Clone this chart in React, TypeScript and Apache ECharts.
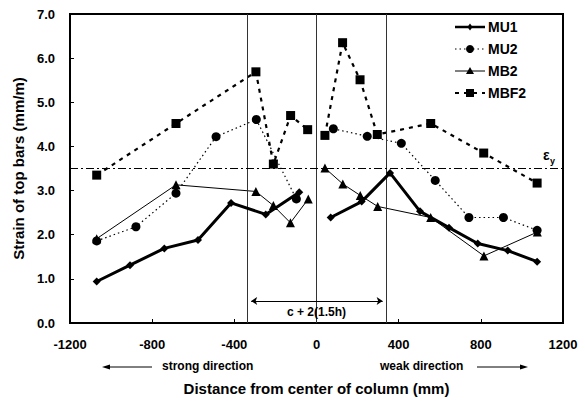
import React, { useEffect, useRef } from "react";
import * as echarts from "echarts";

const FONT = "'Liberation Sans', Arial, Helvetica, sans-serif";

const seriesNames = ["MU1", "MU2", "MB2", "MBF2"];

// '-' marks the gap at the column centre
const mu1X = [-1070, -908, -741, -577, -416, -247, -84, 0, 69, 220, 358, 504, 645, 785, 931, 1074];
const mu1Y: (number | string)[] = [0.94, 1.31, 1.69, 1.88, 2.72, 2.46, 2.96, "-", 2.39, 2.75, 3.4, 2.53, 2.16, 1.8, 1.64, 1.39];

const mu2X = [-1070, -879, -684, -489, -293, -98, 0, 82, 247, 413, 578, 742, 910, 1074];
const mu2Y: (number | string)[] = [1.86, 2.18, 2.94, 4.22, 4.61, 2.81, "-", 4.4, 4.23, 4.07, 3.23, 2.39, 2.39, 2.1];

const mb2X = [-1070, -684, -295, -210, -127, -40, 0, 41, 128, 213, 298, 556, 815, 1075];
const mb2Y: (number | string)[] = [1.91, 3.13, 2.98, 2.66, 2.27, 2.81, "-", 3.51, 3.15, 2.89, 2.64, 2.39, 1.52, 2.06];

const mbf2X = [-1070, -684, -295, -210, -126, -43, 0, 41, 127, 212, 296, 556, 814, 1074];
const mbf2Y: (number | string)[] = [3.35, 4.52, 5.69, 3.6, 4.7, 4.38, "-", 4.25, 6.35, 5.51, 4.27, 4.52, 3.85, 3.17];

const columnFaces = [-338, 0, 338];
const yieldStrain = 3.5;
const spanArrow = [-318, 322];
const spanArrowY = 0.5;
const spanLabel = "c + 2(1.5h)";

function pairs(xs: number[], ys: (number | string)[]) {
  return xs.map((x, i) => [x, ys[i]]);
}

// style per series: [symbol, symbolSize, lineWidth, dash]
const styles: Record<string, { symbol: string; size: number; width: number; dash: number[] | null }> = {
  MU1: { symbol: "diamond", size: 8, width: 3, dash: null },
  MU2: { symbol: "circle", size: 9, width: 1.2, dash: [1.5, 3] },
  MB2: { symbol: "triangle", size: 9, width: 1, dash: null },
  MBF2: { symbol: "rect", size: 9, width: 2.2, dash: [4, 5] },
};

function legendGraphics() {
  const out: any[] = [];
  const x0 = 455;
  const x1 = 485;
  const xm = (x0 + x1) / 2;
  seriesNames.forEach((name, i) => {
    const y = 27 + i * 22;
    const s = styles[name];
    out.push({
      type: "line",
      shape: { x1: x0, y1: y, x2: x1, y2: y },
      style: { stroke: "#000", lineWidth: name === "MU1" ? 2.5 : s.width, lineDash: s.dash || undefined },
    });
    if (s.symbol === "diamond") {
      out.push({ type: "polygon", shape: { points: [[xm, y - 3.5], [xm + 2.5, y], [xm, y + 3.5], [xm - 2.5, y]] }, style: { fill: "#000" } });
    } else if (s.symbol === "circle") {
      out.push({ type: "circle", shape: { cx: xm, cy: y, r: 4 }, style: { fill: "#000" } });
    } else if (s.symbol === "triangle") {
      out.push({ type: "polygon", shape: { points: [[xm, y - 4], [xm + 4, y + 3], [xm - 4, y + 3]] }, style: { fill: "#000" } });
    } else {
      out.push({ type: "rect", shape: { x: xm - 4, y: y - 4, width: 8, height: 8 }, style: { fill: "#000" } });
    }
    out.push({
      type: "text",
      x: x1 + 3,
      y,
      style: { text: name, font: `bold 14px ${FONT}`, fill: "#000", verticalAlign: "middle" },
    });
  });
  return out;
}

export default function App() {
  const ref = useRef<HTMLDivElement>(null);
  useEffect(() => {
    if (!ref.current) return;
    const chart = echarts.init(ref.current, undefined, { renderer: "svg" });
    const bold = { fontFamily: FONT, fontWeight: 700 as const, color: "#000" };
    const vLine = { color: "#333", width: 1, type: "solid" as const };
    const mkSeries = (name: string, xs: number[], ys: (number | string)[]) => {
      const s = styles[name];
      return {
        name,
        type: "line",
        data: pairs(xs, ys),
        symbol: s.symbol,
        symbolSize: s.size,
        color: "#000",
        itemStyle: { color: "#000" },
        lineStyle: { color: "#000", width: s.width, type: s.dash || "solid" },
        connectNulls: false,
      };
    };
    chart.setOption({
      animation: false,
      backgroundColor: "#fff",
      textStyle: { fontFamily: FONT },
      grid: {
        left: 70,
        right: 22,
        top: 14,
        bottom: 76,
        show: true,
        borderColor: "#000",
        borderWidth: 2,
        containLabel: false,
      },
      xAxis: {
        type: "value",
        min: -1200,
        max: 1200,
        interval: 400,
        name: "Distance from center of column (mm)",
        nameLocation: "middle",
        nameGap: 58,
        nameTextStyle: { ...bold, fontSize: 15 },
        axisLine: { onZero: false, lineStyle: { color: "#000", width: 2 } },
        axisTick: { inside: true, length: 4, lineStyle: { color: "#000", width: 1 } },
        axisLabel: { ...bold, fontSize: 13, margin: 15, formatter: (v: number) => String(v) },
        splitLine: { show: false },
      },
      yAxis: {
        type: "value",
        min: 0,
        max: 7,
        interval: 1,
        name: "Strain of top bars (mm/m)",
        nameLocation: "middle",
        nameGap: 40,
        nameTextStyle: { ...bold, fontSize: 15 },
        axisLine: { onZero: false, lineStyle: { color: "#000", width: 2 } },
        axisTick: { inside: true, length: 4, lineStyle: { color: "#000", width: 1 } },
        axisLabel: { ...bold, fontSize: 13, margin: 15, formatter: (v: number) => v.toFixed(1) },
        splitLine: { show: false },
      },
      series: [
        {
          ...mkSeries("MU1", mu1X, mu1Y),
          z: 5,
          markLine: {
            silent: true,
            symbol: "none",
            symbolSize: 7,
            label: { show: false },
            emphasis: { disabled: true },
            data: [
              ...columnFaces.map((x) => ({ xAxis: x, lineStyle: vLine })),
              { yAxis: yieldStrain, lineStyle: { color: "#000", width: 1, type: [8, 3, 2, 3] } },
              [
                { coord: [spanArrow[0], spanArrowY], symbol: "arrow", symbolSize: 6, lineStyle: { color: "#000", width: 1, type: "solid" } },
                { coord: [spanArrow[1], spanArrowY], symbol: "arrow", symbolSize: 6 },
              ],
            ],
          },
          markPoint: {
            silent: true,
            symbol: "circle",
            symbolSize: 0,
            data: [
              {
                coord: [0, 0.25],
                label: { show: true, position: "inside", formatter: spanLabel, ...bold, fontSize: 12 },
              },
            ],
          },
        },
        mkSeries("MU2", mu2X, mu2Y),
        mkSeries("MB2", mb2X, mb2Y),
        mkSeries("MBF2", mbf2X, mbf2Y),
      ],
      graphic: [
        ...legendGraphics(),
        { type: "text", x: 543, y: 155, style: { text: "ε", font: `bold 14px ${FONT}`, fill: "#000", verticalAlign: "middle" } },
        { type: "text", x: 550, y: 161, style: { text: "y", font: `bold 9px ${FONT}`, fill: "#000", verticalAlign: "middle" } },
        { type: "text", x: 162, y: 366, style: { text: "strong direction", font: `bold 12px ${FONT}`, fill: "#000", verticalAlign: "middle" } },
        { type: "line", shape: { x1: 108, y1: 367, x2: 152, y2: 367 }, style: { stroke: "#000", lineWidth: 1 } },
        { type: "polygon", shape: { points: [[102, 367], [110, 364.5], [110, 369.5]] }, style: { fill: "#000" } },
        { type: "text", x: 380, y: 366, style: { text: "weak direction", font: `bold 12px ${FONT}`, fill: "#000", verticalAlign: "middle" } },
        { type: "line", shape: { x1: 477, y1: 367, x2: 522, y2: 367 }, style: { stroke: "#000", lineWidth: 1 } },
        { type: "polygon", shape: { points: [[528, 367], [520, 364.5], [520, 369.5]] }, style: { fill: "#000" } },
      ],
    });
    return () => chart.dispose();
  }, []);
  return <div ref={ref} style={{ width: 585, height: 401, position: "absolute", left: 0, top: 0 }} />;
}
